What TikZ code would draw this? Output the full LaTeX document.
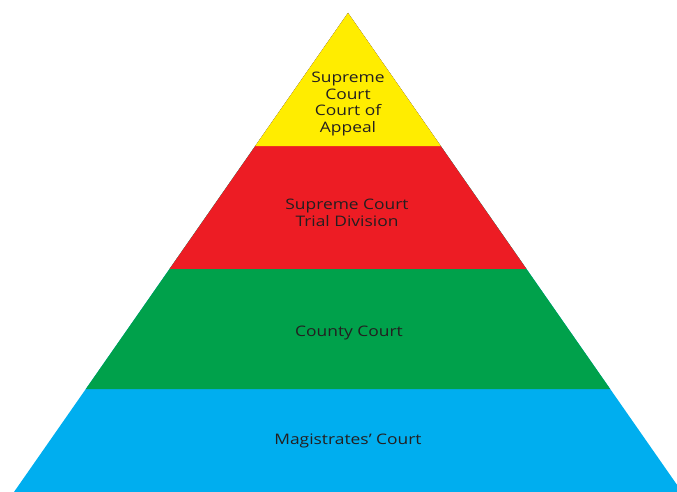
\documentclass[tikz,border=0pt]{standalone}
\usepackage{fontspec}
\setmainfont{Open Sans}[FakeStretch=1.2]
\usetikzlibrary{calc}
\definecolor{appealYellow}{HTML}{FFED00}
\definecolor{trialRed}{HTML}{ED1C24}
\definecolor{countyGreen}{HTML}{00A14B}
\definecolor{magBlue}{HTML}{00AEEF}
\definecolor{labelGray}{HTML}{231F20}
\tikzset{tier/.style={align=center, text=labelGray, inner sep=0pt, font=\fontsize{14.5}{16.8}\selectfont}}

\begin{document}
\begin{tikzpicture}[x=1pt,y=-1pt]
	\useasboundingbox (0,0) rectangle (677,492);
	\clip (0,0) rectangle (677,492);

	\coordinate (apex) at (348,13);
	\coordinate (baseL) at (14,492);
	\coordinate (baseR) at (682,492);

	% tiers, bottom up
	\fill[magBlue] (apex) -- (baseL) -- (baseR) -- cycle;
	\fill[countyGreen] (apex) -- ($(apex)!0.785!(baseL)$) -- ($(apex)!0.785!(baseR)$) -- cycle;
	\fill[trialRed] (apex) -- ($(apex)!0.5344!(baseL)$) -- ($(apex)!0.5344!(baseR)$) -- cycle;
	\fill[appealYellow] (apex) -- ($(apex)!0.2777!(baseL)$) -- ($(apex)!0.2777!(baseR)$) -- cycle;

	\node[tier] (appeal) at (348,104) {Supreme\\Court\\Court of\\Appeal};
	\node[tier] (trial) at (347,212.5) {Supreme Court\\Trial Division};
	\node[tier] (county) at (349,333) {County Court};
	\node[tier] (magistrates) at (348,441) {Magistrates’ Court};
\end{tikzpicture}
\end{document}
